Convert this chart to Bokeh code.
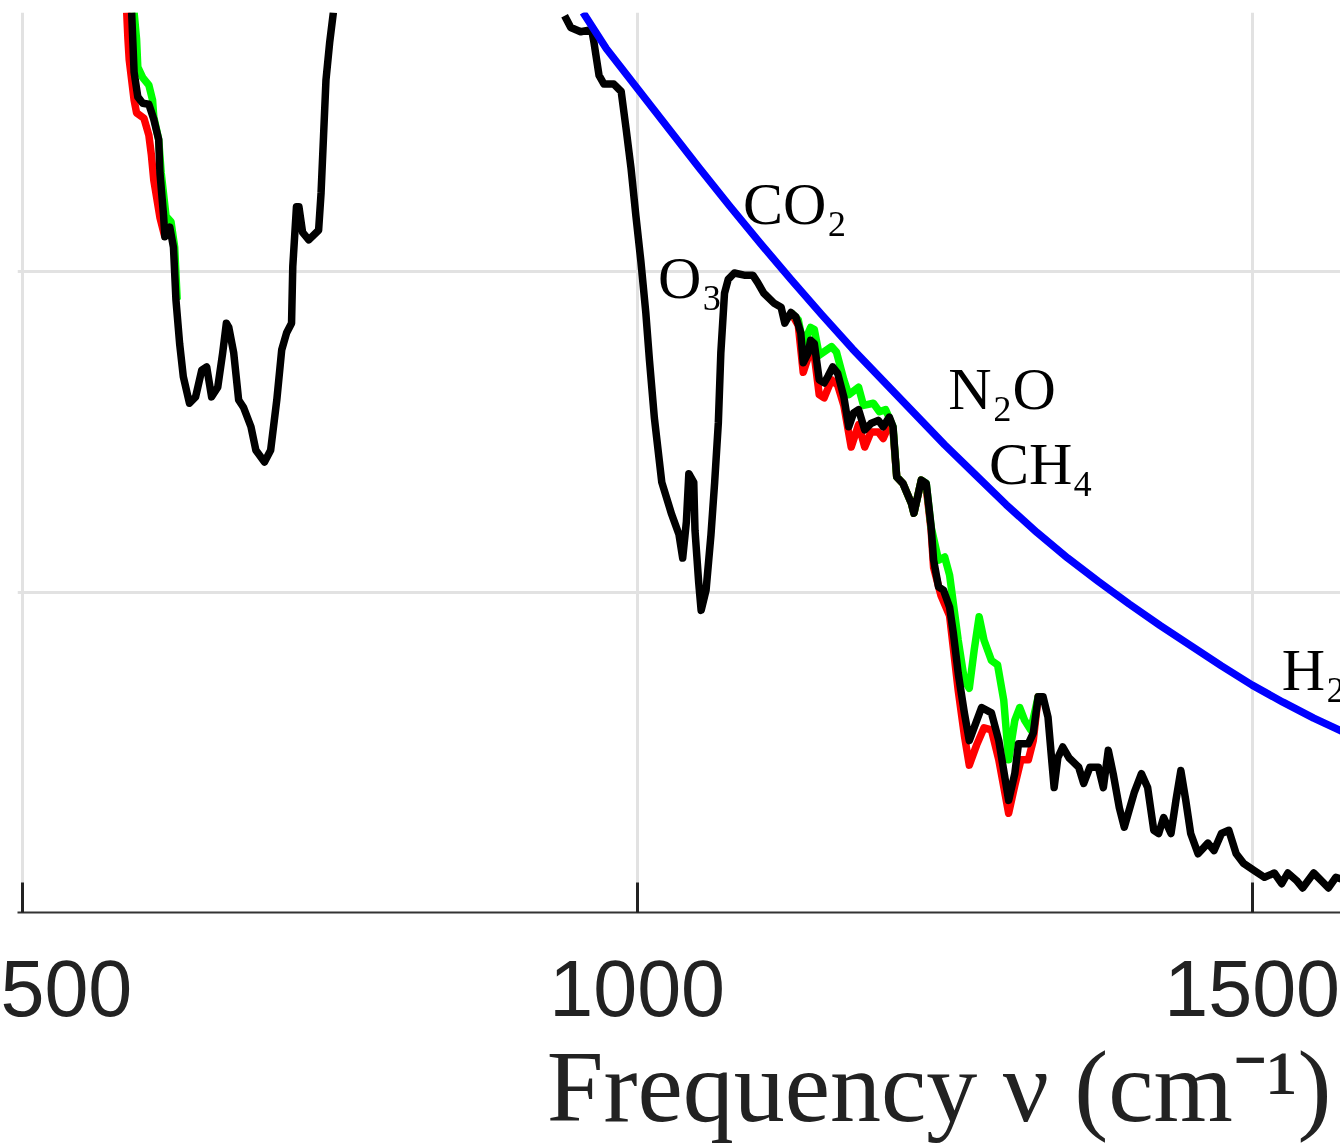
from bokeh.plotting import figure
from bokeh.layouts import column
from bokeh.models import Range1d, FixedTicker
from bokeh.core.properties import value
from bokeh.embed import file_html
from bokeh.resources import INLINE

# ---------------- data (frequency in cm^-1, radiance in mW m^-2 sr^-1 (cm^-1)^-1) ----------------
BLACK_CO2_BAND = [
    (589, 84.3), (590, 81.5), (591, 78.7), (594, 76.4), (598, 75.8), (603, 75.7), (607, 74.3),
    (611, 72.4), (612, 69.3), (615, 65.2), (616, 63.3), (620, 64.2), (623, 62.3), (625, 57.4),
    (628, 53.3), (631, 50.2), (636, 47.7), (641, 48.3), (646, 50.8), (650, 51.1), (654, 48.3),
    (659, 49.2), (663, 52.4), (666, 55.2), (668, 54.8), (672, 52.4), (676, 48.0), (680, 47.3),
    (686, 45.5), (690, 43.3), (697, 42.2), (702, 43.3), (707, 48.0), (711, 52.7), (715, 54.3),
    (719, 55.2), (720, 60.5), (723, 66.1), (725, 66.1), (728, 63.7), (733, 63.0), (741, 63.9),
    (743, 67.4), (745, 72.7), (747, 78.0), (750, 81.5), (753, 84.3),
]
BLACK_O3_H2O = [
    (941, 84.0), (946, 82.9), (954, 82.5), (963, 82.7), (965, 81.4), (969, 78.4), (973, 77.6),
    (981, 77.6), (987, 76.9), (991, 73.4), (995, 69.7), (999, 65.2), (1003, 61.0), (1007, 56.2),
    (1010, 51.7), (1014, 46.3), (1020, 40.3), (1028, 37.3), (1034, 35.4), (1037, 33.2),
    (1040, 36.6), (1042, 41.1), (1046, 40.3), (1047, 35.8), (1050, 30.9), (1052, 28.3),
    (1056, 30.2), (1060, 35.4), (1063, 40.3), (1066, 45.9), (1068, 52.4), (1071, 58.0),
    (1074, 59.3), (1079, 59.9), (1087, 59.7), (1094, 59.7), (1098, 59.0), (1103, 58.0),
    (1111, 57.1), (1117, 56.7), (1120, 55.2), (1125, 56.2), (1129, 55.8), (1133, 54.3),
    (1135, 51.5), (1139, 52.4), (1141, 53.6), (1144, 53.3), (1148, 49.9), (1152, 49.6),
    (1155, 50.2), (1159, 51.1), (1163, 50.5), (1168, 48.3), (1172, 45.5), (1176, 46.8),
    (1180, 47.1), (1185, 45.2), (1190, 45.8), (1196, 46.1), (1200, 45.5), (1205, 46.4),
    (1208, 45.5), (1211, 40.8), (1216, 40.2), (1223, 38.3), (1225, 37.4), (1231, 40.5),
    (1235, 40.2), (1239, 36.1), (1241, 33.0), (1245, 30.5), (1249, 30.2), (1254, 28.6),
    (1257, 26.2), (1261, 22.4), (1266, 18.7), (1270, 16.1), (1280, 19.2), (1288, 18.7),
    (1294, 16.1), (1302, 10.5), (1307, 13.0), (1310, 15.8), (1318, 15.8), (1322, 16.8),
    (1326, 20.2), (1330, 20.2), (1334, 18.3), (1337, 14.3), (1339, 11.7), (1342, 14.5),
    (1346, 15.5), (1351, 14.5), (1359, 13.6), (1363, 12.1), (1368, 13.6), (1375, 13.6),
    (1379, 11.7), (1383, 15.2), (1387, 13.0), (1392, 9.8), (1396, 8.0), (1404, 11.2),
    (1410, 13.0), (1415, 11.7), (1420, 7.7), (1424, 7.4), (1428, 8.9), (1434, 7.4),
    (1438, 10.5), (1442, 13.3), (1446, 10.5), (1450, 7.4), (1456, 5.5), (1464, 6.5),
    (1469, 5.8), (1475, 7.4), (1481, 7.7), (1487, 5.5), (1493, 4.6), (1502, 3.9), (1510, 3.3),
    (1518, 3.7), (1524, 2.7), (1529, 3.7), (1536, 3.0), (1541, 2.3), (1550, 3.7), (1556, 3.0),
    (1562, 2.3), (1568, 3.3), (1576, 3.0),
]
RED_CO2_BAND = [
    (585, 84.3), (586, 81.8), (587, 79.9), (589, 78.0), (591, 76.1), (593, 74.9), (599, 74.4),
    (603, 72.8), (605, 71.0), (607, 68.6), (612, 65.1), (616, 63.3),
]
GREEN_CO2_BAND = [
    (591, 84.3), (593, 81.8), (594, 79.2), (598, 78.2), (603, 77.5), (606, 76.1), (607, 74.5),
    (611, 72.4), (613, 69.3), (617, 65.2), (621, 64.7), (624, 62.3), (626, 57.4),
]
RED_CH4_N2O = [
    (1125, 56.2), (1131, 55.0), (1135, 50.6), (1141, 52.7), (1144, 52.2), (1148, 48.5),
    (1152, 48.2), (1158, 49.9), (1163, 49.4), (1168, 47.5), (1174, 43.6), (1180, 45.7),
    (1185, 43.6), (1190, 45.0), (1196, 45.0), (1200, 44.4), (1205, 45.7), (1208, 45.2),
    (1211, 40.8), (1216, 40.2), (1223, 38.3), (1225, 37.4), (1231, 40.5), (1235, 39.8),
    (1239, 35.8), (1241, 32.3), (1247, 29.7), (1254, 27.8), (1261, 20.8), (1266, 16.6),
    (1270, 13.8), (1276, 15.7), (1282, 17.3), (1288, 17.1), (1294, 14.3), (1302, 9.3),
    (1307, 11.9), (1312, 14.3), (1318, 14.3), (1322, 16.1), (1326, 20.2), (1330, 20.2),
]
GREEN_CH4_N2O = [
    (1125, 56.2), (1131, 55.5), (1135, 53.2), (1141, 54.8), (1144, 54.6), (1148, 52.2),
    (1158, 53.0), (1162, 52.5), (1168, 49.9), (1172, 48.5), (1180, 49.2), (1184, 47.5),
    (1192, 47.7), (1197, 46.9), (1202, 47.1), (1208, 45.5), (1211, 40.8), (1216, 40.2),
    (1223, 38.3), (1225, 37.4), (1231, 40.5), (1235, 40.2), (1239, 36.1), (1245, 33.0),
    (1250, 33.3), (1254, 31.6), (1261, 25.5), (1266, 21.8), (1270, 21.0), (1274, 24.6),
    (1278, 27.7), (1282, 25.5), (1288, 23.6), (1293, 23.2), (1298, 19.9), (1302, 14.3),
    (1307, 18.0), (1311, 19.2), (1315, 18.0), (1320, 17.1), (1326, 20.2), (1330, 20.2),
]
BLUE_PLANCK_NU = [956, 975, 1000, 1025, 1050, 1075, 1100, 1125, 1150, 1175, 1200, 1225, 1250,
                  1275, 1300, 1325, 1350, 1375, 1400, 1425, 1450, 1475, 1500, 1525, 1550, 1580]
BLUE_PLANCK_R = [84.3, 80.9, 77.2, 73.5, 69.8, 66.2, 62.7, 59.3, 56.0, 52.8, 49.8, 46.8, 43.8,
                 41.0, 38.2, 35.6, 33.2, 31.0, 28.9, 26.9, 25.0, 23.1, 21.3, 19.7, 18.2, 16.6]
LABEL_TEXT = ["CO₂", "O₃", "N₂O", "CH₄", "H₂O"]
LABEL_NU = [1086, 1017, 1253, 1286, 1524]
LABEL_R = [66.4, 59.4, 49.0, 42.0, 22.7]
X_TICKS = [500, 1000, 1500]
Y_GRID = [0, 30, 60]
X_LABEL = "Frequency ν (cm⁻¹)"


def xs(points):
    return [p[0] for p in points]


def ys(points):
    return [p[1] for p in points]


p = figure(
    width=1340, height=1020,
    output_backend="svg", toolbar_location=None,
    x_range=Range1d(496.2, 1571.8), y_range=Range1d(0, 84.3),
    y_axis_location=None,
    min_border_left=17, min_border_right=0, min_border_top=12, min_border_bottom=108,
)
p.outline_line_color = None
p.background_fill_color = "white"
p.border_fill_color = "white"

# grids
p.xgrid.ticker = FixedTicker(ticks=X_TICKS)
p.ygrid.ticker = FixedTicker(ticks=Y_GRID)
for g in (p.xgrid, p.ygrid):
    g.grid_line_color = "#e2e2e2"
    g.grid_line_width = 3

# x axis
ax = p.xaxis[0]
ax.ticker = FixedTicker(ticks=X_TICKS)
ax.axis_line_color = "#333333"
ax.axis_line_width = 2
ax.major_tick_line_color = "#222222"
ax.major_tick_line_width = 3
ax.major_tick_in = 30
ax.major_tick_out = 0
ax.minor_tick_line_color = None
ax.major_label_text_font = "Liberation Sans"
ax.major_label_text_font_size = "79px"
ax.major_label_text_color = "#222222"
ax.major_label_standoff = 48

LW = 7.5
p.line(xs(RED_CO2_BAND), ys(RED_CO2_BAND), line_color="#ff0000", line_width=LW, line_join="round")
p.line(xs(GREEN_CO2_BAND), ys(GREEN_CO2_BAND), line_color="#00ff00", line_width=LW, line_join="round")
p.line(xs(RED_CH4_N2O), ys(RED_CH4_N2O), line_color="#ff0000", line_width=LW, line_join="round")
p.line(xs(GREEN_CH4_N2O), ys(GREEN_CH4_N2O), line_color="#00ff00", line_width=LW, line_join="round")
p.line(xs(BLACK_CO2_BAND), ys(BLACK_CO2_BAND), line_color="black", line_width=LW, line_join="round")
p.line(xs(BLACK_O3_H2O), ys(BLACK_O3_H2O), line_color="black", line_width=LW, line_join="round")
p.line(BLUE_PLANCK_NU, BLUE_PLANCK_R, line_color="#0000ff", line_width=LW, line_join="round")

p.text(x=LABEL_NU, y=LABEL_R, text=LABEL_TEXT,
       text_font=value("Liberation Serif"), text_font_size="60px",
       text_color="black", text_align="left", text_baseline="alphabetic")

# strip below the chart carrying the x-axis title (coordinates are pixels of this strip)
cap = figure(
    width=1340, height=125, output_backend="svg", toolbar_location=None,
    x_range=Range1d(0, 1340), y_range=Range1d(0, 125),
    x_axis_location=None, y_axis_location=None,
    min_border=0,
)
cap.grid.visible = False
cap.outline_line_color = None
cap.background_fill_color = "white"
cap.border_fill_color = "white"
cap.text(x=[536], y=[59], text=[X_LABEL],
         text_font=value("Liberation Serif"), text_font_size="102px",
         text_color="#222222", text_align="left", text_baseline="alphabetic")

layout = column(p, cap, spacing=0)
open("out.html", "w").write(file_html(layout, INLINE))
